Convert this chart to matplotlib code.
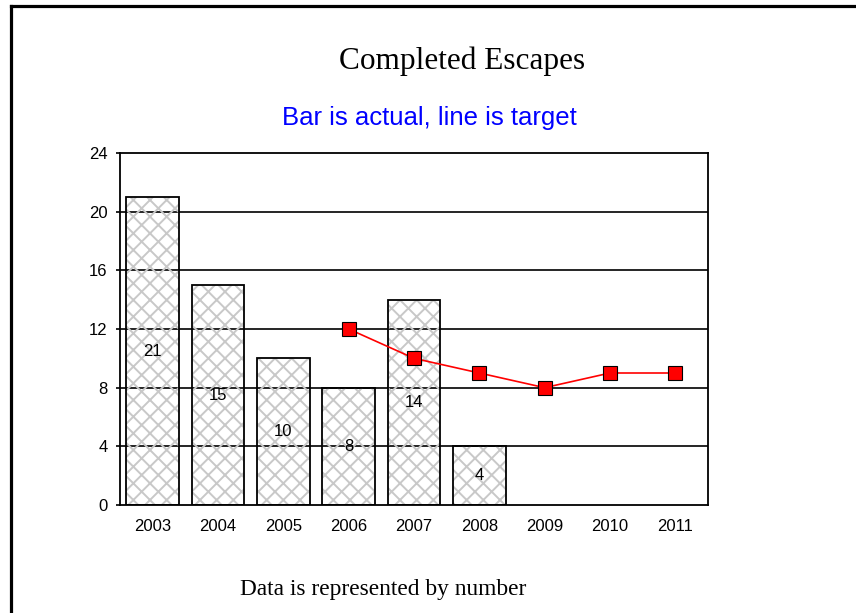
import matplotlib
matplotlib.use("Agg")
import matplotlib.pyplot as plt
from matplotlib.lines import Line2D

years = ["2003", "2004", "2005", "2006", "2007", "2008", "2009", "2010", "2011"]
actual = [21, 15, 10, 8, 14, 4]
target_years = ["2006", "2007", "2008", "2009", "2010", "2011"]
target = [12, 10, 9, 8, 9, 9]
yticks = [0, 4, 8, 12, 16, 20, 24]

plt.rcParams['hatch.color'] = '#c8c8c8'
plt.rcParams['hatch.linewidth'] = 1.4

W, H = 856, 613
fig = plt.figure(figsize=(W / 100, H / 100), dpi=100)
ax = fig.add_axes([120 / W, 1 - 505 / H, (708 - 120) / W, (505 - 153) / H])

x = list(range(len(years)))
ax.set_xlim(-0.5, len(years) - 0.5)
ax.set_ylim(0, 24)

for t in yticks[1:-1]:
    ax.axhline(t, color='black', lw=1.2, zorder=1)

ax.bar(x[:len(actual)], actual, width=0.81, facecolor='none', edgecolor='#c8c8c8',
       hatch='xx', lw=0, zorder=2)
ax.bar(x[:len(actual)], actual, width=0.81, facecolor='none', edgecolor='black',
       lw=1.3, zorder=3)

for xi, v in zip(x, actual):
    ax.text(xi, v / 2, str(v), ha='center', va='center', fontsize=12,
            family='Liberation Sans', zorder=4)

tx = [years.index(y) for y in target_years]
ax.plot(tx, target, color='red', lw=1.2, marker='s', markersize=9.5,
        markerfacecolor='red', markeredgecolor='black', markeredgewidth=0.8, zorder=5)

ax.set_xticks(x)
ax.set_xticklabels(years, family='Liberation Sans', fontsize=12)
ax.set_yticks(yticks)
ax.set_yticklabels([str(t) for t in yticks], family='Liberation Sans', fontsize=12)
ax.tick_params(axis='x', length=0, pad=10)
ax.tick_params(axis='y', length=3, width=1.2, pad=6)
for s in ax.spines.values():
    s.set_linewidth(1.3)

fig.text(462 / W, 1 - 61 / H, "Completed Escapes", ha='center', va='center',
         family='Liberation Serif', fontsize=22.5)
fig.text(429 / W, 1 - 118 / H, "Bar is actual, line is target", ha='center', va='center',
         family='Liberation Sans', fontsize=18.5, color='#0000ff')
fig.text(383 / W, 1 - 589 / H, "Data is represented by number", ha='center', va='center',
         family='Liberation Serif', fontsize=16.8)

fig.add_artist(Line2D([10.5 / W, 1], [1 - 5.5 / H, 1 - 5.5 / H], color='black', lw=2.3,
                      transform=fig.transFigure))
fig.add_artist(Line2D([10.5 / W, 10.5 / W], [0, 1 - 5.5 / H], color='black', lw=2.3,
                      transform=fig.transFigure))

fig.savefig("out.png", dpi=100)
